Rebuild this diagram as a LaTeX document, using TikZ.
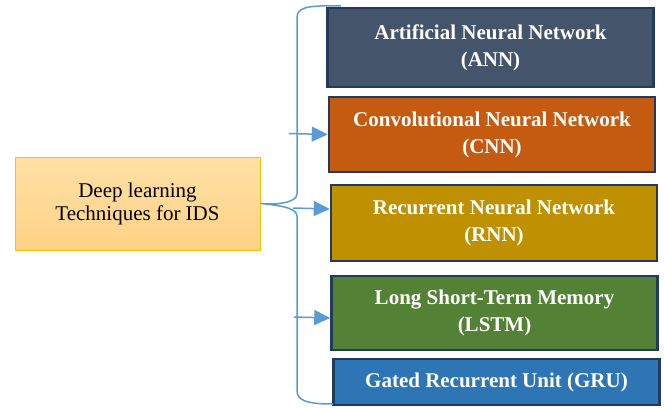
\documentclass[tikz,border=0pt]{standalone}
\usepackage{fontspec}
\setmainfont{Liberation Serif}
\usetikzlibrary{arrows.meta}
\definecolor{linkblue}{HTML}{5B9BD5}
\definecolor{edgedark}{HTML}{223A5E}
\definecolor{annfill}{HTML}{44546A}
\definecolor{cnnfill}{HTML}{C55A11}
\definecolor{rnnfill}{HTML}{BF9000}
\definecolor{lstmfill}{HTML}{538135}
\definecolor{grufill}{HTML}{2E75B6}
\definecolor{roottop}{HTML}{FFE0A6}
\definecolor{rootbot}{HTML}{FFD285}
\definecolor{rootedge}{HTML}{FFC000}
\tikzset{
  techbox/.style={draw=edgedark, line width=2.5pt, inner sep=0pt, minimum width=326pt,
    text=white, font=\fontsize{21}{27}\selectfont\bfseries, align=center},
  rootbox/.style={draw=rootedge, line width=0.8pt, top color=roottop, bottom color=rootbot,
    minimum width=245pt, minimum height=93pt, inner sep=0pt, font=\fontsize{21}{23}\selectfont, align=center},
  bracelink/.style={draw=linkblue, line width=1.5pt},
  linkarrow/.style={draw=linkblue, line width=1.5pt, -{Triangle[length=16pt,width=15pt]}}
}
\begin{document}
\begin{tikzpicture}[x=1pt,y=-1pt]
\useasboundingbox (0,0) rectangle (664,407);
\node[rootbox] (root) at (137.5,203.5) {Deep learning\\Techniques for IDS};
\node[techbox, fill=annfill, minimum height=79pt] (ann) at (490.5,47.5) {Artificial Neural Network\\(ANN)};
\node[techbox, fill=cnnfill, minimum height=75pt] (cnn) at (492,134.5) {Convolutional Neural Network\\(CNN)};
\node[techbox, fill=rnnfill, minimum height=76pt] (rnn) at (494,223) {Recurrent Neural Network\\(RNN)};
\node[techbox, fill=lstmfill, minimum height=74pt] (lstm) at (494.5,313) {Long Short-Term Memory\\(LSTM)};
\node[techbox, fill=grufill, minimum height=46pt] (gru) at (496.5,382) {Gated Recurrent Unit (GRU)};
% brace
\coordinate (btop) at (341,6);
\coordinate (bbot) at (333,404);
\coordinate (tip) at (root.east);
\path[bracelink] (btop) .. controls (305,5) and (297,8) .. (297,18)
  -- (297,194) .. controls (297,203) and (275,205) .. (tip)
  .. controls (275,205) and (297,207) .. (297,216)
  -- (297,390) .. controls (297,400) and (305,404) .. (bbot);
% arrows
\coordinate (a1) at (289,133.5);
\coordinate (a2) at (293,208);
\coordinate (a3) at (294,317);
\draw[linkarrow] (a1) -- (cnn.west);
\draw[linkarrow] (a2) -- ([yshift=14pt]rnn.west);
\draw[linkarrow] (a3) -- ([yshift=-5pt]lstm.west);
\end{tikzpicture}
\end{document}
